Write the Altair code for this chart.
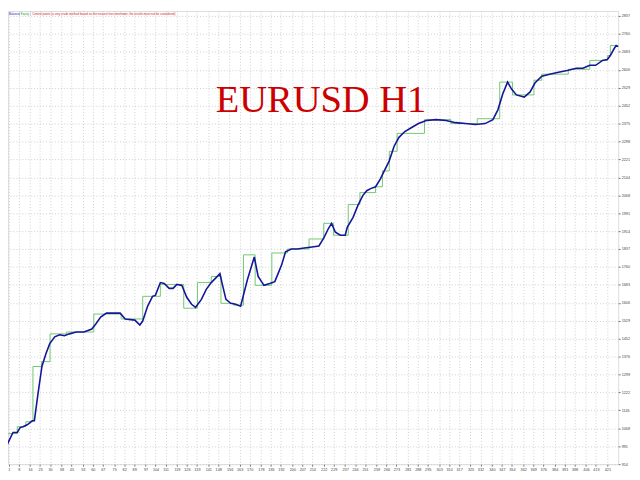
import altair as alt
import pandas as pd

# ---- data (trade number, account value) ----
blue_trade = [0, 4, 7, 9, 11, 14, 17.5, 19, 21.6, 24.3,
              27.1, 29.8, 33.3, 36.7, 40.1, 43.5, 48.4, 53.8, 59.3, 62.1,
              65.5, 69.6, 79.2, 82.7, 89.5, 93.0, 95.0, 98.5, 101.9, 103.9,
              107.4, 110.1, 113.6, 116.3, 119.0, 122.5, 125.9, 129.3, 132.1, 136.2,
              139.6, 143.1, 146.5, 149.2, 150.6, 153.4, 156.8, 160.2, 163.7, 168.5,
              173.3, 176.0, 180.1, 184.2, 187.7, 189.7, 192.5, 195.2, 199.3, 203.5,
              208.3, 213.8, 218.6, 222.0, 225.4, 227.5, 230.2, 233.7, 237.1, 238.5,
              242.6, 246.0, 249.4, 252.2, 254.9, 258.4, 261.8, 264.5, 267.9, 271.4,
              274.8, 278.9, 283.7, 288.5, 294.0, 300.9, 307.8, 314.6, 321.5, 328.4,
              335.2, 340.7, 344.2, 347.6, 351.0, 353.8, 357.2, 362.7, 366.8, 370.2,
              375.0, 380.5, 386.7, 393.6, 399.1, 403.9, 408.7, 412.8, 417.6, 421.0,
              423.1, 425.8, 427.2, 428.6]
blue_value = [999, 1050, 1050, 1071, 1075, 1083, 1100, 1100, 1219, 1333,
              1388, 1431, 1460, 1469, 1465, 1473, 1481, 1481, 1494, 1515,
              1545, 1562, 1562, 1537, 1532, 1511, 1528, 1592, 1634, 1638,
              1693, 1689, 1668, 1668, 1685, 1681, 1630, 1600, 1587, 1621,
              1664, 1693, 1714, 1731, 1693, 1621, 1604, 1600, 1592, 1706,
              1803, 1719, 1681, 1689, 1697, 1727, 1769, 1825, 1837, 1837,
              1841, 1846, 1850, 1884, 1926, 1947, 1909, 1896, 1896, 1930,
              1973, 2024, 2066, 2087, 2096, 2104, 2138, 2172, 2214, 2278,
              2316, 2341, 2358, 2375, 2388, 2392, 2388, 2379, 2375, 2371,
              2375, 2392, 2434, 2502, 2553, 2523, 2498, 2489, 2511, 2549,
              2578, 2587, 2595, 2604, 2612, 2612, 2625, 2625, 2646, 2650,
              2667, 2697, 2710, 2705]

green_trade = [0, 7, 13, 18, 24, 30, 41.5, 60.7, 79.9, 95.0,
               107.4, 123.8, 133.4, 143.1, 149.9, 158.9, 165.7, 173.9, 185.6, 196.6,
               211.7, 222.0, 228.9, 239.2, 247.4, 258.4, 263.2, 268.0, 273.5, 292.7,
               311.2, 329.7, 345.5, 354.5, 369.5, 375.0, 393.6, 408.7, 421.0, 423.1,
               428.6]
green_value = [1045, 1075, 1096, 1333, 1354, 1473, 1481, 1558, 1537, 1634,
               1685, 1583, 1693, 1719, 1604, 1596, 1812, 1681, 1820, 1837,
               1880, 1947, 1896, 2028, 2079, 2104, 2172, 2256, 2333, 2392,
               2375, 2396, 2553, 2498, 2561, 2587, 2608, 2646, 2667, 2710,
               2710]

x_ticks = [1, 8, 16, 23, 30, 38, 45, 53, 60, 67, 75, 82, 89, 97, 104, 111, 119,
           126, 133, 141, 148, 156, 163, 170, 178, 185, 192, 200, 207, 214, 222,
           229, 237, 244, 251, 259, 266, 273, 281, 288, 295, 303, 310, 317, 325,
           332, 340, 347, 354, 362, 369, 376, 384, 391, 398, 406, 413, 421]
y_ticks = [914, 991, 1068, 1145, 1222, 1299, 1376, 1452, 1529, 1606, 1683, 1760,
           1837, 1914, 1991, 2068, 2144, 2221, 2298, 2375, 2452, 2529, 2606,
           2683, 2760, 2837]

title_text = "EURUSD H1"
legend_parts = ["Balance", "|", "Equity", "|",
                "Control points (a very crude method based on the nearest less timeframe, the results must not be considered)"]

blue_df = pd.DataFrame({"trade": blue_trade, "value": blue_value})
green_df = pd.DataFrame({"trade": green_trade, "value": green_value})

W, H = 618, 459
xscale = alt.Scale(domain=[0.5, 428.6], nice=False, zero=False)
yscale = alt.Scale(domain=[914, 2858], nice=False, zero=False)

xaxis = alt.Axis(values=x_ticks, title=None, format="d", labelFontSize=3.8,
                 labelFont="Liberation Sans", labelColor="#444", labelPadding=1,
                 tickSize=2, tickColor="#777", domain=False,
                 grid=True, gridColor="#cfcfcf", gridDash=[1, 2], gridWidth=1,
                 labelOverlap=False, labelFlush=False, labelBound=False)
yaxis = alt.Axis(values=y_ticks, title=None, format="d", orient="right",
                 labelFontSize=3.8, labelFont="Liberation Sans", labelColor="#444",
                 labelPadding=1, tickSize=2, tickColor="#777", domain=False,
                 grid=True, gridColor="#cfcfcf", gridDash=[1, 2], gridWidth=1,
                 labelOverlap=False, labelFlush=False, labelBound=False)

X = alt.X("trade:Q", scale=xscale, axis=xaxis)
Y = alt.Y("value:Q", scale=yscale, axis=yaxis)

green = alt.Chart(green_df).mark_line(color="#72c872", strokeWidth=1,
                                      interpolate="step-after").encode(x=X, y=Y)
blue = alt.Chart(blue_df).mark_line(color="#15159a", strokeWidth=1.6).encode(x=X, y=Y)

title = alt.Chart(pd.DataFrame({"t": [title_text]})).mark_text(
    font="Liberation Serif", fontSize=39, color="#cc0000", align="center",
    baseline="alphabetic").encode(text="t:N", x=alt.value(317), y=alt.value(102))

legend_colors = ["#2020c0", "#555555", "#30a030", "#555555", "#d02020"]
legend_x = [1, 11.5, 13, 22.5, 24.5]
legend_layers = []
for txt, col, px in zip(legend_parts, legend_colors, legend_x):
    legend_layers.append(
        alt.Chart(pd.DataFrame({"t": [txt]})).mark_text(
            font="Liberation Sans", fontSize=3, color=col, align="left",
            baseline="middle").encode(text="t:N", x=alt.value(px), y=alt.value(3.5))
    )

chart = alt.layer(green, blue, title, *legend_layers).properties(
    width=W, height=H,
    padding={"left": 0, "top": 0, "right": 14, "bottom": 13},
    autosize=alt.AutoSizeParams(type="none"),
).configure_view(stroke="#8a8a8a", strokeWidth=1).configure(background="white")

chart.save("out.html", embed_options={"renderer": "svg", "actions": False})
